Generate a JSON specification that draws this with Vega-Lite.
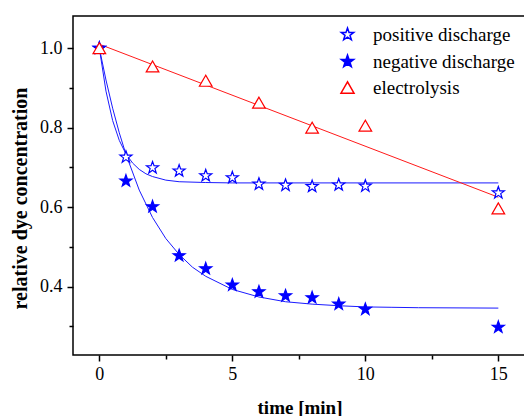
{
  "$schema": "https://vega.github.io/schema/vega-lite/v6.json",
  "width": 453,
  "height": 339,
  "autosize": {"type": "none"},
  "padding": {"left": 73, "top": 16, "right": 0, "bottom": 61},
  "background": "white",
  "config": {
    "font": "Liberation Serif",
    "view": {"stroke": "black", "strokeWidth": 1.5},
    "axis": {
      "domain": false,
      "grid": false,
      "tickColor": "black",
      "tickWidth": 1.5,
      "labelFont": "Liberation Serif",
      "labelFontSize": 18,
      "labelColor": "black",
      "titleFont": "Liberation Serif",
      "titleFontSize": 19,
      "titleFontWeight": "bold",
      "titleColor": "black"
    }
  },
  "datasets": {
    "points": [
      {"t": 0, "c": 1.0, "series": "positive discharge"},
      {"t": 1, "c": 0.726, "series": "positive discharge"},
      {"t": 2, "c": 0.699, "series": "positive discharge"},
      {"t": 3, "c": 0.691, "series": "positive discharge"},
      {"t": 4, "c": 0.679, "series": "positive discharge"},
      {"t": 5, "c": 0.674, "series": "positive discharge"},
      {"t": 6, "c": 0.658, "series": "positive discharge"},
      {"t": 7, "c": 0.655, "series": "positive discharge"},
      {"t": 8, "c": 0.652, "series": "positive discharge"},
      {"t": 9, "c": 0.656, "series": "positive discharge"},
      {"t": 10, "c": 0.653, "series": "positive discharge"},
      {"t": 15, "c": 0.636, "series": "positive discharge"},
      {"t": 0, "c": 1.0, "series": "negative discharge"},
      {"t": 1, "c": 0.666, "series": "negative discharge"},
      {"t": 2, "c": 0.601, "series": "negative discharge"},
      {"t": 3, "c": 0.478, "series": "negative discharge"},
      {"t": 4, "c": 0.445, "series": "negative discharge"},
      {"t": 5, "c": 0.404, "series": "negative discharge"},
      {"t": 6, "c": 0.387, "series": "negative discharge"},
      {"t": 7, "c": 0.377, "series": "negative discharge"},
      {"t": 8, "c": 0.372, "series": "negative discharge"},
      {"t": 9, "c": 0.356, "series": "negative discharge"},
      {"t": 10, "c": 0.343, "series": "negative discharge"},
      {"t": 15, "c": 0.298, "series": "negative discharge"},
      {"t": 0, "c": 1.0, "series": "electrolysis"},
      {"t": 2, "c": 0.954, "series": "electrolysis"},
      {"t": 4, "c": 0.918, "series": "electrolysis"},
      {"t": 6, "c": 0.863, "series": "electrolysis"},
      {"t": 8, "c": 0.8, "series": "electrolysis"},
      {"t": 10, "c": 0.805, "series": "electrolysis"},
      {"t": 15, "c": 0.597, "series": "electrolysis"}
    ],
    "fits": [
      {"t": 0, "c": 1.0, "series": "positive fit"},
      {"t": 0.25, "c": 0.892, "series": "positive fit"},
      {"t": 0.5, "c": 0.818, "series": "positive fit"},
      {"t": 0.75, "c": 0.768, "series": "positive fit"},
      {"t": 1.0, "c": 0.734, "series": "positive fit"},
      {"t": 1.25, "c": 0.711, "series": "positive fit"},
      {"t": 1.5, "c": 0.695, "series": "positive fit"},
      {"t": 1.75, "c": 0.684, "series": "positive fit"},
      {"t": 2.0, "c": 0.677, "series": "positive fit"},
      {"t": 2.5, "c": 0.668, "series": "positive fit"},
      {"t": 3, "c": 0.664, "series": "positive fit"},
      {"t": 4, "c": 0.662, "series": "positive fit"},
      {"t": 5, "c": 0.661, "series": "positive fit"},
      {"t": 15, "c": 0.661, "series": "positive fit"},
      {"t": 0, "c": 1.0, "series": "negative fit"},
      {"t": 0.25, "c": 0.92, "series": "negative fit"},
      {"t": 0.5, "c": 0.849, "series": "negative fit"},
      {"t": 0.75, "c": 0.787, "series": "negative fit"},
      {"t": 1, "c": 0.733, "series": "negative fit"},
      {"t": 1.5, "c": 0.643, "series": "negative fit"},
      {"t": 2, "c": 0.574, "series": "negative fit"},
      {"t": 2.5, "c": 0.521, "series": "negative fit"},
      {"t": 3, "c": 0.481, "series": "negative fit"},
      {"t": 3.5, "c": 0.449, "series": "negative fit"},
      {"t": 4, "c": 0.426, "series": "negative fit"},
      {"t": 5, "c": 0.393, "series": "negative fit"},
      {"t": 6, "c": 0.374, "series": "negative fit"},
      {"t": 7, "c": 0.362, "series": "negative fit"},
      {"t": 8, "c": 0.356, "series": "negative fit"},
      {"t": 9, "c": 0.352, "series": "negative fit"},
      {"t": 10, "c": 0.349, "series": "negative fit"},
      {"t": 11, "c": 0.348, "series": "negative fit"},
      {"t": 12, "c": 0.347, "series": "negative fit"},
      {"t": 15, "c": 0.346, "series": "negative fit"},
      {"t": 0, "c": 1.01, "series": "electrolysis fit"},
      {"t": 15, "c": 0.625, "series": "electrolysis fit"}
    ]
  },
  "layer": [
    {
      "data": {"name": "fits"},
      "mark": {"type": "line", "strokeWidth": 1, "clip": true},
      "encoding": {
        "x": {
          "field": "t", "type": "quantitative",
          "scale": {"domain": [-0.99, 16.04], "nice": false, "zero": false},
          "axis": {
            "title": "time [min]",
            "values": [0, 2.5, 5, 7.5, 10, 12.5, 15],
            "labelExpr": "datum.value % 5 === 0 ? datum.label : ''",
            "tickSize": {"condition": {"test": "datum.value % 5 === 0", "value": 6}, "value": 4},
            "labelPadding": 4,
            "titleY": 58,
            "titleBaseline": "alphabetic"
          }
        },
        "y": {
          "field": "c", "type": "quantitative",
          "scale": {"domain": [0.228, 1.081], "nice": false, "zero": false},
          "axis": {
            "title": "relative dye concentration",
            "titleFontSize": 20,
            "values": [0.3, 0.4, 0.5, 0.6, 0.7, 0.8, 0.9, 1.0],
            "format": ".1f",
            "labelExpr": "round(datum.value * 10) % 2 === 0 ? datum.label : ''",
            "tickSize": {"condition": {"test": "round(datum.value * 10) % 2 === 0", "value": 6}, "value": 4},
            "labelPadding": 5,
            "titleX": -47,
            "titleY": 182,
            "titleBaseline": "alphabetic"
          }
        },
        "color": {
          "field": "series", "type": "nominal",
          "scale": {"domain": ["positive fit", "negative fit", "electrolysis fit"], "range": ["#1a1aff", "#1a1aff", "#ff1a1a"]},
          "legend": null
        }
      }
    },
    {
      "data": {"name": "points"},
      "mark": {"type": "point", "size": 160, "strokeWidth": 1.2, "opacity": 1, "clip": true},
      "encoding": {
        "x": {"field": "t", "type": "quantitative"},
        "y": {"field": "c", "type": "quantitative"},
        "stroke": {
          "field": "series", "type": "nominal",
          "scale": {"domain": ["positive discharge", "negative discharge", "electrolysis"], "range": ["#0000ff", "#0000ff", "#ff0000"]},
          "legend": {
            "title": null,
            "orient": "none",
            "legendX": 265,
            "legendY": 9,
            "labelFont": "Liberation Serif",
            "labelFontSize": 19,
            "labelColor": "black",
            "labelOffset": 16,
            "rowPadding": 6,
            "symbolSize": 170,
            "symbolStrokeWidth": 1.5,
            "padding": 0
          }
        },
        "fill": {
          "field": "series", "type": "nominal",
          "scale": {"domain": ["positive discharge", "negative discharge", "electrolysis"], "range": ["white", "#0000ff", "white"]},
          "legend": {
            "title": null,
            "orient": "none",
            "legendX": 265,
            "legendY": 9,
            "labelFont": "Liberation Serif",
            "labelFontSize": 19,
            "labelColor": "black",
            "labelOffset": 16,
            "rowPadding": 6,
            "symbolSize": 170,
            "symbolStrokeWidth": 1.5,
            "padding": 0
          }
        },
        "shape": {
          "field": "series", "type": "nominal",
          "scale": {
            "domain": ["positive discharge", "negative discharge", "electrolysis"],
            "range": [
              "M0,-1L0.235,-0.324L0.951,-0.309L0.38,0.124L0.588,0.809L0,0.4L-0.588,0.809L-0.38,0.124L-0.951,-0.309L-0.235,-0.324Z",
              "M0,-1L0.235,-0.324L0.951,-0.309L0.38,0.124L0.588,0.809L0,0.4L-0.588,0.809L-0.38,0.124L-0.951,-0.309L-0.235,-0.324Z",
              "triangle-up"
            ]
          },
          "legend": {
            "title": null,
            "orient": "none",
            "legendX": 265,
            "legendY": 9,
            "labelFont": "Liberation Serif",
            "labelFontSize": 19,
            "labelColor": "black",
            "labelOffset": 16,
            "rowPadding": 6,
            "symbolSize": 170,
            "symbolStrokeWidth": 1.5,
            "padding": 0
          }
        }
      }
    }
  ]
}
